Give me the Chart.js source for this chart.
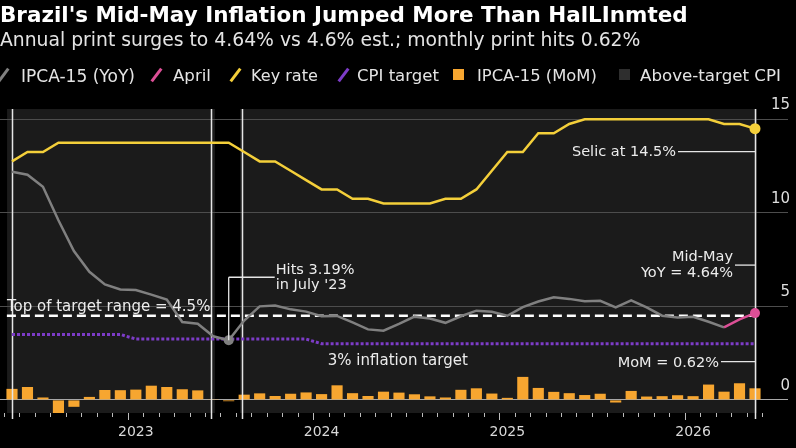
<!DOCTYPE html>
<html><head><meta charset="utf-8">
<script src="https://cdn.jsdelivr.net/npm/chart.js@4.4.1/dist/chart.umd.min.js"></script>
<style>
html,body{margin:0;padding:0;background:#000;}
#wrap{position:relative;width:796px;height:448px;overflow:hidden;background:#000;font-family:"DejaVu Sans",sans-serif;}
#c{position:absolute;left:0;top:0;}
.t{position:absolute;white-space:nowrap;line-height:1;color:#e4e4e4;}
#title{font-weight:bold;color:#fff;font-size:20px;left:0;top:4px;}
#sub{font-size:18px;left:0;top:30.5px;}
.lg{font-size:16.5px;top:67.7px;}
.sl{position:absolute;width:3px;height:16px;top:67px;transform:rotate(37deg);}
.sq{position:absolute;width:11px;height:11px;top:69px;}
</style></head>
<body><div id="wrap">
<canvas id="c" width="796" height="448"></canvas>
<div class="t" id="title" data-w="688">Brazil's Mid-May Inflation Jumped More Than HalLInmted</div>
<div class="t" id="sub" data-w="641">Annual print surges to 4.64% vs 4.6% est.; monthly print hits 0.62%</div>
<div class="sl" style="left:2px;background:#808080"></div>
<div class="t lg" style="left:21px" data-w="114">IPCA-15 (YoY)</div>
<div class="sl" style="left:155px;background:#dc4f96"></div>
<div class="t lg" style="left:173px" data-w="38">April</div>
<div class="sl" style="left:234px;background:#f4cf3a"></div>
<div class="t lg" style="left:251px" data-w="67">Key rate</div>
<div class="sl" style="left:342px;background:#7d3cc8"></div>
<div class="t lg" style="left:357px" data-w="82">CPI target</div>
<div class="sq" style="left:453px;background:#f7a630"></div>
<div class="t lg" style="left:477px" data-w="120">IPCA-15 (MoM)</div>
<div class="sq" style="left:619px;background:#2e2e2e"></div>
<div class="t lg" style="left:640px" data-w="141">Above-target CPI</div>
</div>
<script>
// ---- data ----
const months = ['2022-05','2022-06','2022-07','2022-08','2022-09','2022-10','2022-11','2022-12',
'2023-01','2023-02','2023-03','2023-04','2023-05','2023-06','2023-07','2023-08','2023-09','2023-10','2023-11','2023-12',
'2024-01','2024-02','2024-03','2024-04','2024-05','2024-06','2024-07','2024-08','2024-09','2024-10','2024-11','2024-12',
'2025-01','2025-02','2025-03','2025-04','2025-05','2025-06','2025-07','2025-08','2025-09','2025-10','2025-11','2025-12',
'2026-01','2026-02','2026-03','2026-04','2026-05'];
const yearTickLabels = {'2023-01':'2023','2024-01':'2024','2025-01':'2025','2026-01':'2026'};
const yAxisTicks = [0,5,10,15];
const ipcaYoY = [12.20,12.04,11.39,9.60,7.96,6.85,6.17,5.90,
5.87,5.63,5.36,4.16,4.07,3.40,3.19,4.24,5.00,5.05,4.84,4.72,
4.47,4.49,4.14,3.77,3.70,4.06,4.45,4.35,4.12,4.47,4.77,4.71,
4.50,4.96,5.26,5.49,5.40,5.27,5.30,4.95,5.32,4.94,4.50,4.41,
4.44,4.18,3.88,null,null];
const aprilYoY = [null,null,null,null,null,null,null,null,
null,null,null,null,null,null,null,null,null,null,null,null,
null,null,null,null,null,null,null,null,null,null,null,null,
null,null,null,null,null,null,null,null,null,null,null,null,
null,null,3.88,4.30,4.64];
const keyRate = [12.75,13.25,13.25,13.75,13.75,13.75,13.75,13.75,
13.75,13.75,13.75,13.75,13.75,13.75,13.75,13.25,12.75,12.75,12.25,11.75,
11.25,11.25,10.75,10.75,10.50,10.50,10.50,10.50,10.75,10.75,11.25,12.25,
13.25,13.25,14.25,14.25,14.75,15.00,15.00,15.00,15.00,15.00,15.00,15.00,
15.00,15.00,14.75,14.75,14.50];
const cpiTarget = [3.5,3.5,3.5,3.5,3.5,3.5,3.5,3.5,
3.25,3.25,3.25,3.25,3.25,3.25,3.25,3.25,3.25,3.25,3.25,3.25,
3,3,3,3,3,3,3,3,3,3,3,3,
3,3,3,3,3,3,3,3,3,3,3,3,
3,3,3,3,3];
const ipcaMoM = [0.59,0.69,0.13,-0.73,-0.37,0.16,0.53,0.52,
0.55,0.76,0.69,0.57,0.51,0.04,-0.07,0.28,0.35,0.21,0.33,0.40,
0.31,0.78,0.36,0.21,0.44,0.39,0.30,0.19,0.13,0.54,0.62,0.34,
0.11,1.23,0.64,0.43,0.36,0.26,0.33,-0.14,0.48,0.18,0.20,0.25,
0.20,0.82,0.44,0.89,0.62];
const topOfRange = 4.5;
// above-target shading spans, in month-index units
const aboveTargetSpans = [[-0.32,13.11],[14.73,48.13]];
const markerLines = [0,12.87,14.85,48];

// ---- fit header texts ----
document.querySelectorAll('[data-w]').forEach(el=>{
  const w = el.getBoundingClientRect().width;
  const fs = parseFloat(getComputedStyle(el).fontSize);
  el.style.fontSize = (fs*(+el.dataset.w)/w).toFixed(2)+'px';
});

const toPts = arr => arr.map((v,i)=> v==null?null:{x:i,y:v}).filter(p=>p);
const last = months.length-1;
const FONT = '"DejaVu Sans", sans-serif';

const shadePlugin = {
  id:'shade',
  beforeDraw(chart){
    const {ctx, chartArea:a, scales:{x}} = chart;
    ctx.save(); ctx.fillStyle = '#1b1b1b';
    aboveTargetSpans.forEach(([s,e])=>{
      const x0 = x.getPixelForValue(s), x1 = x.getPixelForValue(e);
      ctx.fillRect(x0, a.top, x1-x0, a.bottom-a.top);
    });
    ctx.restore();
  },
  afterDatasetDraw(chart, args){
    if (args.meta.type !== 'bar') return;
    const {ctx, chartArea:a, scales:{x}} = chart;
    ctx.save(); ctx.strokeStyle = '#e6e6e6'; ctx.lineWidth = 1.5;
    markerLines.forEach(v=>{
      const px = Math.round(x.getPixelForValue(v))+0.5;
      ctx.beginPath(); ctx.moveTo(px, a.top); ctx.lineTo(px, a.bottom+6); ctx.stroke();
    });
    ctx.restore();
  },
  afterDatasetsDraw(chart){
    const {ctx, scales:{x,y}} = chart;
    const X = v=>x.getPixelForValue(v), Y = v=>y.getPixelForValue(v);
    ctx.save();
    ctx.fillStyle = '#ececec'; ctx.strokeStyle = '#e6e6e6'; ctx.lineWidth = 1.3;
    ctx.textBaseline = 'alphabetic';
    const line = (x0,y0,x1,y1)=>{ctx.beginPath();ctx.moveTo(x0,y0);ctx.lineTo(x1,y1);ctx.stroke();};
    // Top of target range
    ctx.font = '15px '+FONT; ctx.textAlign = 'left';
    ctx.fillText('Top of target range = 4.5%', X(-0.33), Y(topOfRange)-5);
    // 3% inflation target
    ctx.fillText('3% inflation target', X(20.4), Y(cpiTarget[last])+21);
    // Hits 3.19%
    const lowI = 14, hx = X(lowI), hy = Y(ipcaYoY[lowI]);
    const ly = hy-63;
    line(hx, hy, hx, ly); line(hx, ly, hx+46, ly);
    ctx.font = '14.5px '+FONT;
    ctx.fillText('Hits 3.19%', hx+47, ly-3.7);
    ctx.fillText("in July '23", hx+47, ly+11.5);
    // right-side annotations tied to last month
    const rx = X(last);
    ctx.textAlign = 'right';
    const sy = Y(keyRate[last])+23;
    line(rx, sy, rx-77, sy);
    ctx.fillText('Selic at 14.5%', rx-79, sy+4.3);
    const my = Y(aprilYoY[last])-48;
    line(rx, my, rx-20, my);
    ctx.fillText('Mid-May', rx-22, my-4.3);
    ctx.fillText('YoY = 4.64%', rx-22, my+11.7);
    const mo = Y(ipcaMoM[last])-26.7;
    line(rx, mo, rx-34, mo);
    ctx.fillText('MoM = 0.62%', rx-36, mo+5.6);
    ctx.restore();
  }
};

new Chart(document.getElementById('c'), {
  type:'bar',
  data:{ datasets:[
    {type:'bar', label:'IPCA-15 (MoM)', data:toPts(ipcaMoM), backgroundColor:'#f7a630',
     barPercentage:0.72, categoryPercentage:1, order:10},
    {type:'line', label:'Top of target range', data:[{x:-0.33,y:topOfRange},{x:last,y:topOfRange}],
     borderColor:'#ffffff', borderWidth:2.5, borderDash:[9,5], pointRadius:0, order:9},
    {type:'line', label:'CPI target', data:toPts(cpiTarget), borderColor:'#7d3cc8', borderWidth:3,
     borderDash:[3,2], borderCapStyle:'butt', pointRadius:0, order:8},
    {type:'line', label:'IPCA-15 (YoY)', data:toPts(ipcaYoY), borderColor:'#808080', borderWidth:2.5,
     pointRadius:c=>c.dataIndex===14?5:0, pointBackgroundColor:'#808080', pointBorderWidth:0, order:7},
    {type:'line', label:'April', data:toPts(aprilYoY), borderColor:'#dc4f96', borderWidth:2.5,
     pointRadius:c=>c.dataIndex===2?5:0, pointBackgroundColor:'#dc4f96', pointBorderWidth:0, order:6},
    {type:'line', label:'Key rate', data:toPts(keyRate), borderColor:'#f4cf3a', borderWidth:2.5,
     pointRadius:c=>c.dataIndex===last?5.5:0, pointBackgroundColor:'#f4cf3a', pointBorderWidth:0, order:5}
  ]},
  options:{
    responsive:false, animation:false, devicePixelRatio:1,
    layout:{autoPadding:false, padding:{left:0,right:6,top:109,bottom:0}},
    plugins:{legend:{display:false}, title:{display:false}, tooltip:{enabled:false}},
    scales:{
      x:{type:'linear', min:-0.775, max:49.357, offset:false,
        afterBuildTicks:s=>{ s.ticks = months.map((m,i)=>({value:i})); },
        afterFit:s=>{ s.height = 35; },
        border:{display:false},
        grid:{drawOnChartArea:false, drawTicks:true, tickLength:7, color:'#bdbdbd', lineWidth:1,
          tickBorderDash:c=> (c.tick && yearTickLabels[months[c.tick.value]]) ? [] : [4,20]},
        ticks:{autoSkip:false, maxRotation:0, padding:4, color:'#d9d9d9', font:{family:FONT,size:14},
          callback:v=> yearTickLabels[months[v]] || ''}
      },
      y:{position:'right', min:-0.7, max:15.55,
        afterBuildTicks:s=>{ s.ticks = yAxisTicks.map(v=>({value:v})); },
        afterFit:s=>{ s.width = 14; },
        border:{display:false},
        grid:{color:c=> (c.tick && c.tick.value===0) ? '#a8a8a8' : '#4d4d4d', lineWidth:1, tickLength:12, drawTicks:true},
        ticks:{color:'#dedede', font:{family:FONT,size:15}, mirror:true, crossAlign:'near', labelOffset:-14, padding:14,
          callback:v=>String(v)}
      }
    }
  },
  plugins:[shadePlugin]
});
</script>
</body></html>
